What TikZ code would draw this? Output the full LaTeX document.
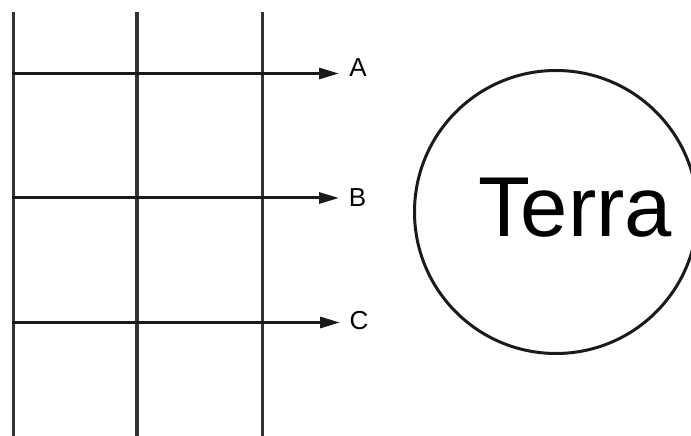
\documentclass[tikz,border=0pt]{standalone}
\usepackage{fontspec}
\setmainfont{Liberation Sans}
\usetikzlibrary{arrows.meta}
\definecolor{vline}{HTML}{333333}
\definecolor{hline}{HTML}{1A1A1A}
\tikzset{
  gridline/.style={draw=vline, line width=3.2pt},
  arrowline/.style={draw=hline, line width=3pt, -{Triangle[length=20pt,width=11pt]}},
  lbl/.style={inner sep=0pt, font=\fontsize{26pt}{28pt}\selectfont},
  earth/.style={draw=hline, line width=3pt, circle, minimum size=283pt, inner sep=0pt},
}
\begin{document}
\begin{tikzpicture}[x=1pt,y=1pt]
\useasboundingbox (0,0) rectangle (691,436);
\begin{scope}
\clip (0,0) rectangle (691,436);
% vertical grid lines
\coordinate (v1t) at (13.5,424);  \coordinate (v1b) at (13.5,0);
\coordinate (v2t) at (137,424);   \coordinate (v2b) at (137,0);
\coordinate (v3t) at (262.5,424); \coordinate (v3b) at (262.5,0);
\draw[gridline] (v1t) -- (v1b);
\draw[gridline] (v2t) -- (v2b);
\draw[gridline] (v3t) -- (v3b);
% horizontal arrows
\coordinate (a0) at (12,362.5); \coordinate (a1) at (339,362.5);
\coordinate (b0) at (12,238);   \coordinate (b1) at (339,238);
\coordinate (c0) at (12,113.5); \coordinate (c1) at (340,113.5);
\draw[arrowline] (a0) -- (a1);
\draw[arrowline] (b0) -- (b1);
\draw[arrowline] (c0) -- (c1);
\node[lbl] (A) at (358,368) {A};
\node[lbl] (B) at (357.5,238.3) {B};
\node[lbl] (C) at (359,115) {C};
% circle
\node[earth] (earth) at (556,224) {};
\node[inner sep=0pt, font=\fontsize{85pt}{90pt}\selectfont] (terra) at (575,228.5) {Terra};
\end{scope}
\end{tikzpicture}
\end{document}
